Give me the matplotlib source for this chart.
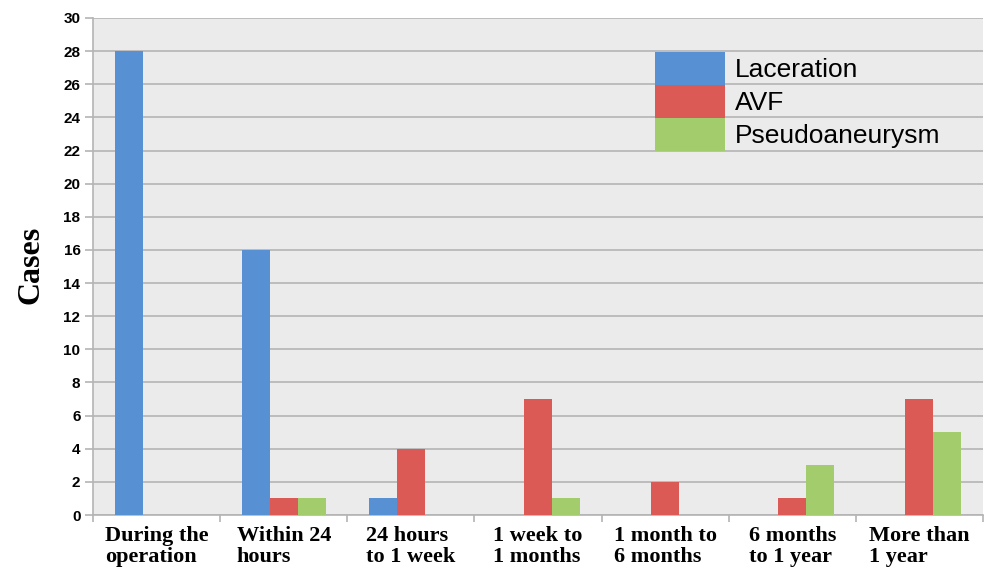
# Bar chart: time of onset for each kind of vascular injury
import numpy as np
import matplotlib.pyplot as plt

periods = ["During the\noperation", "Within 24\nhours", "24 hours\nto 1 week",
           "1 week to\n1 months", "1 month to\n6 months", "6 months\nto 1 year",
           "More than\n1 year"]
laceration = [28, 16, 1, 0, 0, 0, 0]
avf = [0, 1, 4, 7, 2, 1, 7]
pseudo = [0, 1, 0, 1, 0, 3, 5]

fig = plt.figure(figsize=(9.85, 5.69), dpi=100)
ax = fig.add_axes([0.0944, 0.0949, 0.9036, 0.8735])
ax.set_facecolor('#ebebeb')

x = np.arange(len(periods))
w = 0.22
ax.bar(x - w, laceration, w, color='#5790d3', label='Laceration', zorder=3)
ax.bar(x, avf, w, color='#dc5a55', label='AVF', zorder=3)
ax.bar(x + w, pseudo, w, color='#a3cd6c', label='Pseudoaneurysm', zorder=3)

ax.set_xlim(-0.5, 6.5)
ax.set_ylim(0, 30)
ax.set_yticks(np.arange(0, 31, 2))
ax.yaxis.grid(True, color='#b4b4b4', lw=1.2, zorder=0)
ax.tick_params(axis='y', length=6, color='#b4b4b4', width=1.2, pad=3)
for t in ax.get_yticklabels():
    t.set_fontweight('bold')
    t.set_fontsize(11)
    t.set_family('Liberation Sans')

# category labels between boundary ticks
ax.set_xticks(x)
ax.set_xticklabels(periods, fontsize=16, fontweight='bold', family='Liberation Serif',
                   linespacing=1.03, multialignment='left')
ax.tick_params(axis='x', length=0, pad=8)
ax.set_xticks(np.arange(-0.5, 7, 1), minor=True)
ax.tick_params(axis='x', which='minor', length=5, color='#b4b4b4', width=1.2)

for s in ['top', 'right']:
    ax.spines[s].set_visible(False)
for s in ['left', 'bottom']:
    ax.spines[s].set_color('#b4b4b4')
    ax.spines[s].set_linewidth(1.2)

fig.text(0.031, 0.534, 'Cases', rotation=90, fontsize=23, fontweight='bold',
         family='Liberation Serif', ha='center', va='center')

ax.legend(loc='upper left', bbox_to_anchor=(0.631, 0.932), frameon=False,
          prop={'family': 'Liberation Sans', 'size': 19, 'weight': 'medium'},
          handlelength=2.65, handleheight=1.55, labelspacing=0.0,
          handletextpad=0.4, borderpad=0, borderaxespad=0)

plt.savefig('out.png', dpi=100)
